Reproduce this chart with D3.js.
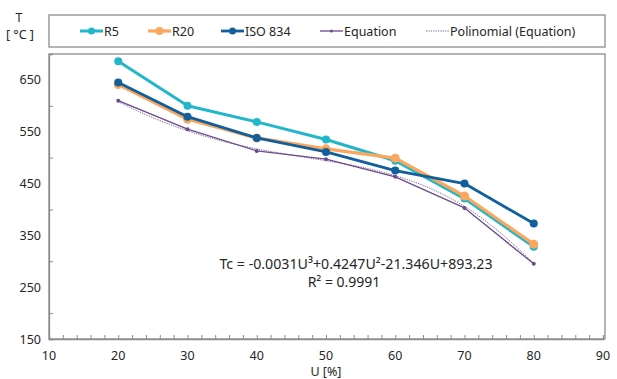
<!DOCTYPE html>
<html>
<head>
<meta charset="utf-8">
<script src="https://cdn.jsdelivr.net/npm/d3@7"></script>
<style>
  body { margin: 0; background: #fff; }
  text { font-family: "Noto Sans", sans-serif; fill: #262626; }
</style>
</head>
<body>
<div id="chart"></div>
<script>
// data
const uValues = [20, 30, 40, 50, 60, 70, 80];
const r5 = [686, 600, 569, 535, 494, 421, 328];
const r20 = [641, 574, 538, 517, 499, 426, 333];
const iso834 = [645, 579, 538, 511, 475, 450, 373];
const equation = [610, 555, 513, 497, 463, 403, 295];
const polyU = [20, 25, 30, 35, 40, 45, 50, 55, 60, 65, 70, 75, 80];
const polyT = [608, 577, 552, 532, 517, 505, 494, 482, 465, 441, 406, 357, 296];
const xTicks = [10, 20, 30, 40, 50, 60, 70, 80, 90];
const yTicks = [150, 250, 350, 450, 550, 650];

const W = 617, H = 379;
const margin = {top: 54, right: 14, bottom: 40, left: 49};
const width = 603 - margin.left;
const height = 339 - margin.top;

const svg = d3.select("#chart").append("svg")
  .attr("width", W).attr("height", H);

const g = svg.append("g")
  .attr("transform", "translate(" + margin.left + "," + margin.top + ")");

const x = d3.scaleLinear().domain([10, 90]).range([0, width]);
const y = d3.scaleLinear().domain([150, 700]).range([height, 0]);

// plot frame
g.append("rect")
  .attr("x", 0).attr("y", 0)
  .attr("width", width + 2).attr("height", height)
  .attr("fill", "none").attr("stroke", "#8c8c8c").attr("stroke-width", 1.3);

// x axis with inside minor ticks
const xAxis = g.append("g")
  .attr("transform", "translate(0," + height + ")")
  .call(d3.axisBottom(x).tickValues(d3.range(10, 91, 2)).tickSize(-4).tickFormat(""));
xAxis.select(".domain").attr("stroke", "#8c8c8c").attr("stroke-width", 1.3);
xAxis.selectAll(".tick line").attr("stroke", "#8c8c8c");
xAxis.selectAll(".tick text").remove();

g.append("g").selectAll("text")
  .data(xTicks).enter().append("text")
  .attr("x", d => x(d)).attr("y", height + 21)
  .attr("text-anchor", "middle")
  .style("font-size", "12.5px")
  .text(d => d);

// y axis
const yAxis = g.append("g")
  .call(d3.axisLeft(y).tickValues(d3.range(200, 700, 100)).tickSize(-4).tickFormat(""));
yAxis.select(".domain").attr("stroke", "#8c8c8c").attr("stroke-width", 1.3);
yAxis.selectAll(".tick line").attr("stroke", "#8c8c8c");

g.append("g").selectAll("text")
  .data(yTicks).enter().append("text")
  .attr("x", -8).attr("y", d => y(d) + 4.5)
  .attr("text-anchor", "end")
  .style("font-size", "12.5px")
  .text(d => d);

// axis titles
svg.append("text").attr("x", 19).attr("y", 22).attr("text-anchor", "middle")
  .style("font-size", "12.5px").text("T");
svg.append("text").attr("x", 20).attr("y", 39).attr("text-anchor", "middle")
  .style("font-size", "12.5px").text("[ °C ]");
svg.append("text").attr("x", margin.left + x(50)).attr("y", 375.5).attr("text-anchor", "middle")
  .style("font-size", "12.5px").text("U [%]");

const series = [
  {name: "R5", values: r5, color: "#22b6cb", w: 3, r: 4},
  {name: "R20", values: r20, color: "#fba75e", w: 3.2, r: 4.5},
  {name: "ISO 834", values: iso834, color: "#125f9c", w: 2.8, r: 4},
  {name: "Equation", values: equation, color: "#6a4a8c", w: 1.3, r: 2}
];

const line = d3.line().x(d => x(d[0])).y(d => y(d[1]));

// polynomial trendline (dotted)
g.append("path")
  .datum(d3.zip(polyU, polyT))
  .attr("fill", "none")
  .attr("stroke", "#7a5c9c")
  .attr("stroke-width", 1)
  .attr("stroke-dasharray", "1.2,1.2")
  .attr("d", d3.line().curve(d3.curveCatmullRom).x(d => x(d[0])).y(d => y(d[1])));

series.forEach(s => {
  const pts = d3.zip(uValues, s.values);
  g.append("path").datum(pts)
    .attr("fill", "none").attr("stroke", s.color)
    .attr("stroke-width", s.w).attr("stroke-linejoin", "round")
    .attr("d", line);
  g.selectAll(null).data(pts).enter().append("circle")
    .attr("cx", d => x(d[0])).attr("cy", d => y(d[1]))
    .attr("r", s.r).attr("fill", s.color);
});

// equation label (centred lines, as the trendline label)
const labelX = x(50) + 18;
g.append("text").attr("x", labelX + 12).attr("y", 215)
  .attr("text-anchor", "middle").style("font-size", "14.2px")
  .text("Tc = -0.0031U³+0.4247U²-21.346U+893.23");
g.append("text").attr("x", labelX).attr("y", 233)
  .attr("text-anchor", "middle").style("font-size", "14px")
  .text("R² = 0.9991");

// legend
const legend = svg.append("g");
legend.append("rect")
  .attr("x", 49).attr("y", 15).attr("width", 556).attr("height", 32)
  .attr("fill", "none").attr("stroke", "#8c8c8c").attr("stroke-width", 1.3);

const legendItems = [
  {name: "R5", x: 80, s: series[0]},
  {name: "R20", x: 148, s: series[1]},
  {name: "ISO 834", x: 221, s: series[2]},
  {name: "Equation", x: 320, s: series[3]},
  {name: "Polinomial (Equation)", x: 426, s: null}
];
legendItems.forEach(it => {
  const gi = legend.append("g").attr("transform", "translate(" + it.x + ",31)");
  if (it.s) {
    gi.append("line").attr("x1", 0).attr("x2", 23)
      .attr("stroke", it.s.color).attr("stroke-width", it.s.w);
    gi.append("circle").attr("cx", 11.5).attr("r", it.s.r - 0.5).attr("fill", it.s.color);
  } else {
    gi.append("line").attr("x1", 0).attr("x2", 23)
      .attr("stroke", "#7a5c9c").attr("stroke-width", 1).attr("stroke-dasharray", "1.2,1.2");
  }
  gi.append("text").attr("x", 24).attr("y", 4.5)
    .style("font-size", "12.5px").text(it.name);
});
</script>
</body>
</html>
